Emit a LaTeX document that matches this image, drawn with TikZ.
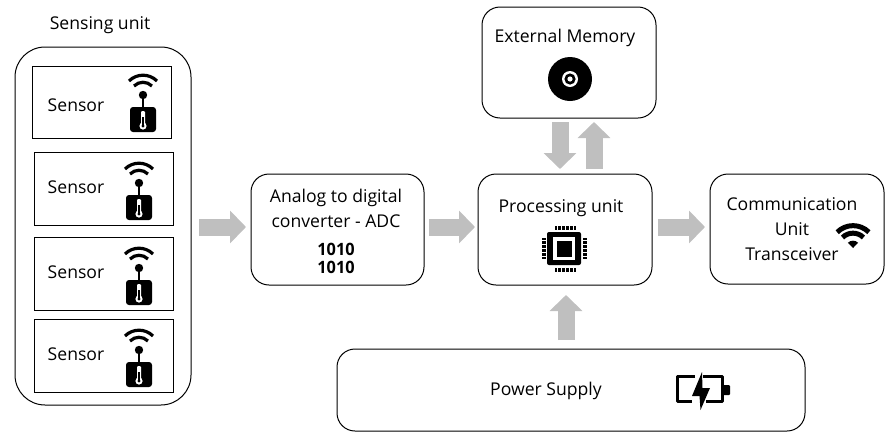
\documentclass[tikz,border=0pt]{standalone}
\usepackage{fontspec}
\setmainfont{Open Sans}
\usetikzlibrary{arrows.meta}
\definecolor{blk}{HTML}{BFBFBF}
\tikzset{
  x=1pt,y=-1pt,
  every node/.style={inner sep=0pt,outer sep=0pt,font=\fontsize{17.6}{25}\selectfont,text=black},
  label/.style={align=center},
  box/.style={draw=black,line width=1pt,rounded corners=#1},
  box/.default=18pt,
  sensorbox/.style={draw=black,line width=1pt,minimum width=139pt,anchor=north west},
  fat/.style={draw=blk,line width=17pt,-{Triangle[length=16pt,width=32pt,fill=blk]}},
  pics/sensoricon/.style={code={
    \draw[line width=3.2pt] (-14,-14) arc[start angle=135,end angle=45,radius=19.8pt];
    \draw[line width=3.2pt] (-9,-9) arc[start angle=135,end angle=45,radius=12.7pt];
    \fill (0,0) circle[radius=4.2];
    \draw[line width=2.6pt] (0,0) -- (0,13);
    \fill[rounded corners=3pt] (-13,12) rectangle (13,37);
    \fill[white] (0,31) circle[radius=3.6];
    \fill[white,rounded corners=1pt] (-2,16) rectangle (2,30);
    \fill (0,31) circle[radius=1.6];
    \fill (-.6,22) rectangle (.6,31);
  }},
}
\begin{document}
\begin{tikzpicture}
\useasboundingbox (0,0) rectangle (895,445);
\node[label,anchor=center] (sensing) at (100,25) {Sensing unit};
\draw[box=30pt] (15,47) rectangle (191,405);
\coordinate (senseeast) at (191,227);
\node[sensorbox,minimum height=72pt] (s1) at (32,66) {};
\node[sensorbox,minimum height=73pt] (s2) at (34,152) {};
\node[sensorbox,minimum height=73pt] (s3) at (34,237) {};
\node[sensorbox,minimum height=73pt] (s4) at (34,319) {};
\node (t1) at (76,105) {Sensor};
\node (t2) at (76,187) {Sensor};
\node (t3) at (76,272) {Sensor};
\node (t4) at (76,354) {Sensor};
\pic at (143,95) {sensoricon};
\pic at (139,183) {sensoricon};
\pic at (139,268) {sensoricon};
\pic at (139,350) {sensoricon};

\node[box,minimum width=173pt,minimum height=111pt,anchor=north west] (adc) at (251,174) {};
\node[label] (adct) at (336,208.5) {Analog to digital\\converter - ADC};
\node[align=center,xscale=.96,font=\fontsize{17}{18.5}\selectfont\bfseries] (bin) at (336,258.5) {1010\\1010};

\node[box,minimum width=174pt,minimum height=111pt,anchor=north west] (proc) at (478,174) {};
\node (proct) at (561,208) {Processing unit};
\fill[rounded corners=2pt] (547,232) rectangle (581,265);
\fill[white] (553,237) rectangle (575,260);
\fill (556.5,240.5) rectangle (571.5,256.5);
\foreach \i in {0,...,5}{
  \fill (555.5+3.9*\i-1,226) rectangle ++(2.4,3.6);
  \fill (555.5+3.9*\i-1,268) rectangle ++(2.4,3.6);
  \fill (542,238.5+3.9*\i-1) rectangle ++(3.6,2.4);
  \fill (583,238.5+3.9*\i-1) rectangle ++(3.6,2.4);
}

\node[box,minimum width=174pt,minimum height=111pt,anchor=north west] (mem) at (482,7) {};
\node (memt) at (565,38) {External Memory};
\fill (570,79) circle[radius=22];
\fill[white] (570,79) circle[radius=8];
\fill (570,79) circle[radius=5.6];
\fill[white] (570,79) circle[radius=2.6];

\node[box,minimum width=174pt,minimum height=110pt,anchor=north west] (comm) at (710,174) {};
\node[label] (commt) at (792,229) {Communication\\Unit\\Transceiver};
\fill (853,248) -- ++(-5.2,-5.2) arc[start angle=135,end angle=45,radius=7.3pt] -- cycle;
\draw[line width=5pt] (842.5,237.5) arc[start angle=135,end angle=45,radius=14.8pt];
\draw[line width=5pt] (837.2,232.2) arc[start angle=135,end angle=45,radius=22.4pt];

\node[box,minimum width=468pt,minimum height=82pt,anchor=north west] (pow) at (337,349) {};
\node (powt) at (546,391) {Power Supply};
\draw[line width=3.4pt,line join=round] (695,376.7) -- (677.7,376.7) -- (677.7,401.3) -- (692,401.3);
\draw[line width=3.4pt,line join=round] (703,376.7) -- (722.5,376.7) -- (722.5,401.3) -- (706,401.3);
\fill[rounded corners=1pt] (722,385) rectangle (730,395);
\fill (702,372) -- (692,396) -- (699.5,396) -- (700.5,410) -- (710,388) -- (702.5,388) -- cycle;

\draw[fat] ([xshift=8pt]senseeast) -- ([xshift=-5pt,yshift=2.5pt]adc.west);
\draw[fat] ([xshift=5pt,yshift=2.5pt]adc.east) -- ([xshift=-3pt,yshift=2.5pt]proc.west);
\draw[fat] ([xshift=6pt,yshift=2.5pt]proc.east) -- ([xshift=-5pt,yshift=2pt]comm.west);
\draw[fat] ([xshift=-9pt,yshift=-4pt]mem.south) -- ([xshift=-5pt,yshift=5pt]proc.north);
\draw[fat] ([xshift=29pt,yshift=5pt]proc.north) -- ([xshift=25pt,yshift=-4pt]mem.south);
\draw[fat] ([xshift=-5pt,yshift=9pt]pow.north) -- ([xshift=1pt,yshift=-10pt]proc.south);
\end{tikzpicture}
\end{document}
